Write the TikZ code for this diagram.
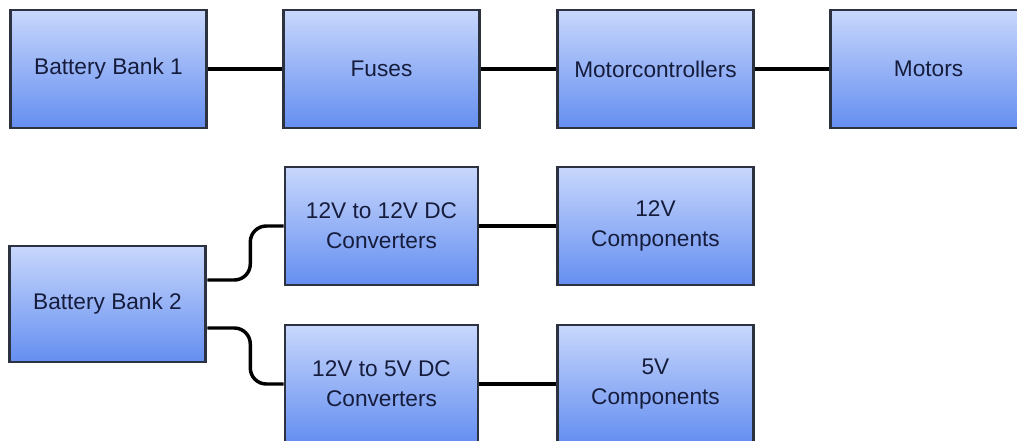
\documentclass[tikz,border=0pt]{standalone}
\usepackage{fontspec}
\setmainfont{Liberation Sans}
\usepackage{tikz}

\definecolor{boxtop}{RGB}{200,215,252}
\definecolor{boxbot}{RGB}{100,142,240}
\definecolor{boxline}{RGB}{45,50,64}
\definecolor{boxtext}{RGB}{22,28,60}

\tikzset{
    box/.style={draw=boxline, line width=2.2pt, top color=boxtop, bottom color=boxbot,
        minimum width=147.5pt, minimum height=88.5pt, inner sep=0pt, align=center,
        text=boxtext, font=\fontsize{17}{22.5}\selectfont},
    wire/.style={line width=2.6pt, black}
}

\begin{document}
\begin{tikzpicture}[x=0.75pt, y=-0.75pt]
                \useasboundingbox (0, 0) rectangle (1017, 440);

                \node [box] (bank1) at (108.5, 69) {Battery Bank 1};
                \node [box] (fuses) at (381.5, 69) {Fuses};
                \node [box] (ctrl) at (655.5, 69) {Motorcontrollers};
                \node [box] (motors) at (928.5, 69) {Motors};

                \node [box, minimum height=87pt] (bank2) at (107.5, 304) {Battery Bank 2};
                \node [box, minimum width=144.75pt] (conv12) at (381.5, 226) {12V to 12V DC\\Converters};
                \node [box, minimum width=144.75pt] (conv5) at (381.5, 384) {12V to 5V DC\\Converters};
                \node [box] (comp12) at (655.5, 226) {12V\\Components};
                \node [box] (comp5) at (655.5, 384) {5V\\Components};

                \draw [wire] (bank1) to (fuses);
                \draw [wire] (fuses) to (ctrl);
                \draw [wire] (ctrl) to (motors);

                \draw [wire, rounded corners=12] (bank2.east) ++(0, -24) -- ++(43, 0) |- (conv12.west);
                \draw [wire, rounded corners=12] (bank2.east) ++(0, 24) -- ++(43, 0) |- (conv5.west);

                \draw [wire] (conv12) to (comp12);
                \draw [wire] (conv5) to (comp5);
            \end{tikzpicture}
\end{document}
